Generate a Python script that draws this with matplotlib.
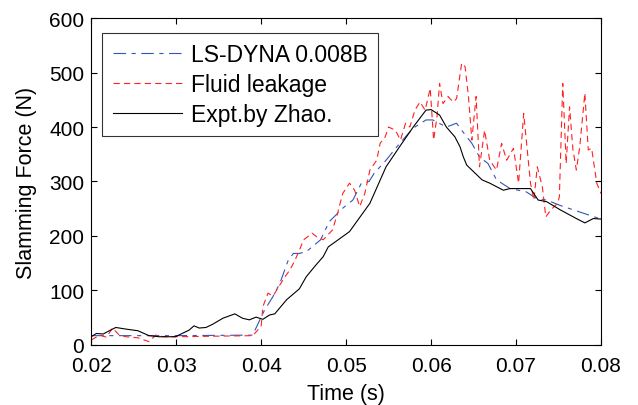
import matplotlib
matplotlib.use('Agg')
import matplotlib.pyplot as plt
import numpy as np

plt.rcParams['font.family'] = ['Liberation Sans', 'DejaVu Sans']
plt.rcParams['lines.scale_dashes'] = False

# Expt. by Zhao (black solid)
t_exp = [0.0200, 0.0206, 0.0214, 0.0225, 0.0229, 0.0241, 0.0255, 0.0268, 0.0280, 0.0299,
         0.0315, 0.0321, 0.0327, 0.0335, 0.0343, 0.0355, 0.0369, 0.0378, 0.0386, 0.0394,
         0.0402, 0.0410, 0.0416, 0.0430, 0.0445, 0.0453, 0.0463, 0.0473, 0.0479, 0.0488,
         0.0504, 0.0528, 0.0547, 0.0563, 0.0579, 0.0594, 0.0600, 0.0610, 0.0618, 0.0628,
         0.0634, 0.0638, 0.0642, 0.0650, 0.0660, 0.0669, 0.0685, 0.0693, 0.0717, 0.0726,
         0.0736, 0.0752, 0.0771, 0.0781, 0.0791, 0.0800]
f_exp = [15, 21, 20, 29, 32, 29, 26, 17, 15, 15,
         27, 35, 31, 32, 38, 49, 57, 49, 46, 51,
         47, 55, 57, 83, 103, 125, 144, 162, 180, 190,
         208, 260, 327, 364, 400, 431, 432, 422, 400, 382,
         364, 345, 330, 318, 303, 297, 284, 287, 287, 266,
         263, 248, 232, 224, 232, 231]

# LS-DYNA 0.008B (blue dash-dot)
t_dyna = [0.0200, 0.0300, 0.0390, 0.0404, 0.0414, 0.0422, 0.0432, 0.0438, 0.0445, 0.0453,
          0.0470, 0.0480, 0.0496, 0.0508, 0.0518, 0.0527, 0.0533, 0.0547, 0.0563, 0.0579,
          0.0594, 0.0602, 0.0618, 0.0630, 0.0636, 0.0648, 0.0657, 0.0667, 0.0677, 0.0693,
          0.0712, 0.0724, 0.0736, 0.0752, 0.0777, 0.0800]
f_dyna = [17, 17, 18, 64, 89, 113, 156, 168, 168, 171,
          193, 226, 251, 266, 297, 300, 315, 339, 370, 398,
          413, 413, 400, 407, 394, 370, 345, 333, 303, 287,
          281, 269, 266, 256, 243, 231]

# Fluid leakage (red dashed)
t_leak = [0.0200, 0.0210, 0.0218, 0.0225, 0.0233, 0.0241, 0.0255, 0.0268, 0.0276, 0.0285,
          0.0300, 0.0390, 0.0400, 0.0402, 0.0408, 0.0414, 0.0422, 0.0428, 0.0434, 0.0440,
          0.0445, 0.0450, 0.0460, 0.0465, 0.0473, 0.0484, 0.0490, 0.0496, 0.0504, 0.0510,
          0.0516, 0.0522, 0.0528, 0.0536, 0.0540, 0.0546, 0.0550, 0.0558, 0.0564, 0.0570,
          0.0575, 0.0581, 0.0587, 0.0593, 0.0599, 0.0603, 0.0607, 0.0610, 0.0614, 0.0620,
          0.0626, 0.0630, 0.0636, 0.0640, 0.0644, 0.0648, 0.0653, 0.0657, 0.0663, 0.0669,
          0.0677, 0.0683, 0.0689, 0.0697, 0.0703, 0.0709, 0.0717, 0.0721, 0.0725, 0.0731,
          0.0735, 0.0741, 0.0749, 0.0751, 0.0755, 0.0759, 0.0763, 0.0767, 0.0771, 0.0775,
          0.0781, 0.0785, 0.0789, 0.0795, 0.0800]
f_leak = [9, 18, 14, 31, 18, 15, 13, 6, 18, 15,
          15, 17, 34, 70, 95, 90, 110, 125, 138, 156,
          174, 193, 205, 199, 193, 211, 242, 278, 297, 284,
          254, 278, 321, 339, 370, 382, 400, 394, 376, 407,
          400, 431, 446, 431, 471, 376, 419, 480, 443, 456,
          446, 452, 517, 511, 456, 376, 456, 327, 394, 339,
          321, 370, 339, 361, 297, 425, 297, 266, 327, 290,
          235, 248, 260, 272, 480, 333, 437, 358, 321, 364,
          462, 358, 361, 297, 278]

fig = plt.figure(figsize=(6.38, 4.06), dpi=100)
ax = fig.add_axes([0.143, 0.148, 0.799, 0.805])

ax.plot(t_dyna, f_dyna, color='#3355bb', lw=0.8, linestyle=(0, (9, 4, 3, 4)),
        label='LS-DYNA 0.008B')
ax.plot(t_leak, f_leak, color='#ff2020', lw=0.8, linestyle=(0, (4.5, 3)),
        label='Fluid leakage')
ax.plot(t_exp, f_exp, color='black', lw=0.8, label='Expt.by Zhao.')

ax.set_xlim(0.02, 0.08)
ax.set_ylim(0, 600)
ax.set_xticks(np.arange(0.02, 0.0801, 0.01))
ax.set_yticks(np.arange(0, 601, 100))
ax.set_xticklabels(['0.02', '0.03', '0.04', '0.05', '0.06', '0.07', '0.08'])
ax.tick_params(direction='in', top=True, right=True, labelsize=15, length=4)
ax.tick_params(axis='x', pad=8)
ax.tick_params(axis='y', pad=5)
for s in ax.spines.values():
    s.set_linewidth(0.8)

ax.set_xlabel('Time (s)', fontsize=15.5, labelpad=6)
ax.set_ylabel('Slamming Force (N)', fontsize=15.5, labelpad=9)

leg = ax.legend(loc='upper left', bbox_to_anchor=(0.022, 0.955), fontsize=16.5,
                frameon=True, fancybox=False, edgecolor='black', handlelength=3.0,
                borderpad=0.45, labelspacing=0.3, handletextpad=0.4, borderaxespad=0)
leg.get_frame().set_linewidth(0.8)

fig.savefig('out.png', dpi=100)
